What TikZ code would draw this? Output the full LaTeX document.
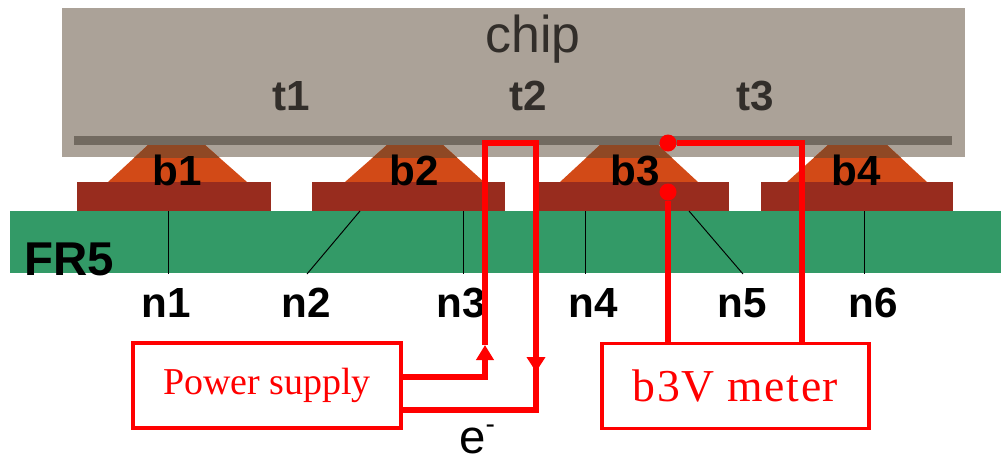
\documentclass[tikz,border=0pt]{standalone}
\usepackage{fontspec}
\setmainfont{Liberation Serif}
\setsansfont{Liberation Sans}
\usetikzlibrary{positioning,arrows.meta,calc}
\definecolor{chipgray}{RGB}{171,162,152}
\definecolor{bargray}{RGB}{114,106,96}
\definecolor{bumporange}{RGB}{210,74,23}
\definecolor{bumpdark}{RGB}{143,72,36}
\definecolor{padred}{RGB}{152,44,30}
\definecolor{boardgreen}{RGB}{51,154,103}
\definecolor{labeldark}{RGB}{50,46,42}
\tikzset{
    lbl/.style={anchor=base,font=\sffamily\bfseries\fontsize{24}{24}\selectfont,inner sep=0pt},
    wire/.style={red,line width=3pt},
    redbox/.style={draw=red,line width=1.8pt,fill=white,text=red,minimum height=1.7cm,inner sep=0pt},
    dot/.style={circle,fill=red,inner sep=0pt,minimum size=0.34cm},
    leader/.style={black,line width=0.55pt}
}
\begin{document}
\begin{tikzpicture}[x=0.02cm,y=-0.02cm]
    \path[use as bounding box] (0,0) rectangle (1001,461);

    % CHIP
    \fill[chipgray] (62,8) rectangle (965,157);
    \fill[bargray] (74,136) rectangle (952,145);
    \node[lbl,font=\sffamily\fontsize{29.5}{30}\selectfont,text=labeldark] (chip) at (533,52) {chip};
    \foreach \nm/\x in {1/291,2/528,3/755} {
        \node[lbl,text=labeldark] (t\nm) at (\x,110) {t\nm};
    }

    % BUMPS
    \foreach \nm/\a/\b/\c/\d in {1/108/148/205/247,2/345/387/443/484,3/560/600/658/698,4/787/828/887/927} {
        \fill[bumporange] (\a,182) -- (\b,145) -- (\c,145) -- (\d,182) -- cycle;
        \begin{scope}
            \clip (62,145) rectangle (965,157);
            \fill[bumpdark] (\a,182) -- (\b,145) -- (\c,145) -- (\d,182) -- cycle;
        \end{scope}
    }

    % PADS
    \foreach \a/\b in {77/271,312/505,538/729,761/953} {
        \fill[padred] (\a,182) rectangle (\b,211);
    }
    \foreach \nm/\x in {1/177,2/414,3/635,4/856} {
        \node[lbl] (b\nm) at (\x,185) {b\nm};
    }

    % FR5
    \fill[boardgreen] (10,211) rectangle (1001,273);
    \node[lbl,font=\sffamily\bfseries\fontsize{27}{27}\selectfont] (fr5) at (69,275) {FR5};

    % NETS
    \foreach \nm/\a/\b/\x in {1/168/168/166,2/360/307/306,3/463/463/461,4/585/585/593,5/689/743/742,6/864/864/873} {
        \coordinate (top\nm) at (\a,211);
        \coordinate (low\nm) at (\b,274);
        \draw[leader] (top\nm) -- (low\nm);
        \node[lbl] (n\nm) at (\x,317) {n\nm};
    }

    % POWER SUPPLY
    \node[redbox,minimum width=5.36cm,font=\fontsize{21.6}{22}\selectfont] (supply) at (267,385.5) {Power supply};
    \coordinate (upa) at (401,377);
    \coordinate (upb) at (485,377);
    \coordinate (upc) at (485,345);
    \coordinate (upd) at (485,143);
    \coordinate (dna) at (536,143);
    \coordinate (dnb) at (536,372);
    \coordinate (dnc) at (536,410);
    \coordinate (dnd) at (401,410);
    \draw[wire,-{Triangle[length=0.3cm,width=0.34cm]}] (upa) -- (upb) -- (upc);
    \draw[wire] (upc) -- (upd) -- (dna) -- (dnc) -- (dnd);
    \draw[wire,-{Triangle[length=0.3cm,width=0.36cm]}] (dna) -- (dnb);
    \node[anchor=base,inner sep=0pt,font=\sffamily\fontsize{27}{27}\selectfont] (eminus) at (477,453) {e\raisebox{0.42em}{\fontsize{16}{16}\selectfont -}};

    % VOLTMETER
    \node[redbox,minimum width=5.34cm,font=\fontsize{26}{26}\selectfont] (meter) at (735.5,386) {\addfontfeature{LetterSpace=3.5}b3V meter};
    \node[dot] (senseb) at (668,192) {};
    \node[dot] (sensea) at (668,143) {};
    \coordinate (corner) at (802,143);
    \draw[wire] (meter.north -| senseb) -- (senseb);
    \draw[wire] (meter.north -| corner) -- (corner) -- (sensea);

\end{tikzpicture}
\end{document}
